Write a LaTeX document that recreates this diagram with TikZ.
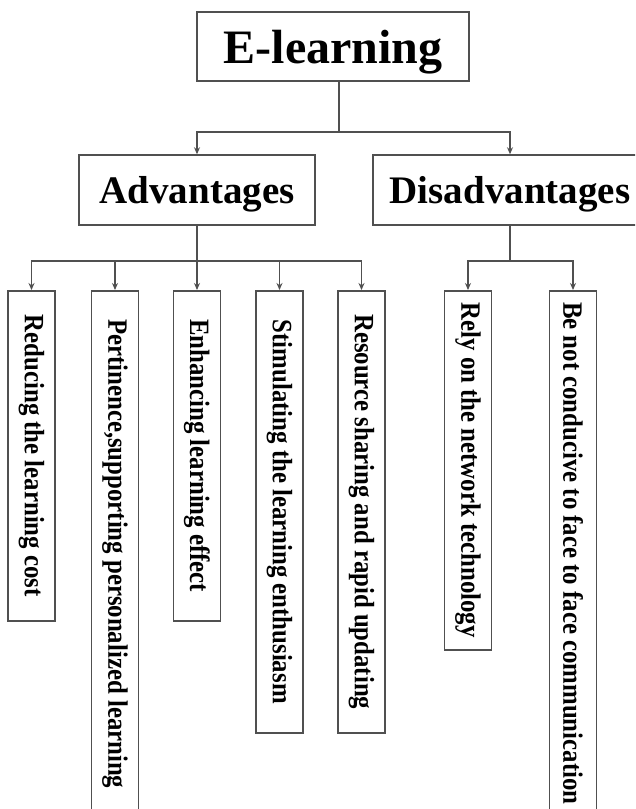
\documentclass[tikz,border=0pt]{standalone}
\usepackage{fontspec}
\setmainfont{Liberation Serif}
\usetikzlibrary{arrows.meta}
\definecolor{lc}{RGB}{80,80,80}
\newcommand\leaftext[1]{\rotatebox{-90}{\scalebox{0.886}[1]{#1}}}
\begin{document}
\begin{tikzpicture}[x=1pt,y=1pt,
 box/.style={draw=lc,line width=1.5pt,inner sep=0pt,font=\bfseries},
 topbox/.style={box,minimum width=272pt,minimum height=69pt,text depth=0pt,font=\bfseries\fontsize{48}{48}\selectfont},
 midbox/.style={box,minimum height=70pt,text depth=0pt,font=\bfseries\fontsize{39}{39}\selectfont},
 leafbox/.style={box,minimum width=47pt,anchor=north,font=\bfseries\fontsize{28}{28}\selectfont},
 link/.style={draw=lc,line width=1.5pt},
 arr/.style={link,-{Stealth[length=7pt,width=6pt]}}]
\useasboundingbox (0,0) rectangle (635,-809);
\clip (0,0) rectangle (635,-809);
\node[topbox] (el) at (333,-46.5) {E-learning};
\node[midbox,minimum width=236pt] (adv) at (197,-190) {Advantages};
\node[midbox,minimum width=274pt] (dis) at (510,-190) {Disadvantages};
\node[leafbox,minimum height=330pt] (c1) at (31.5,-290) {\leaftext{Reducing the learning cost}};
\node[leafbox,minimum height=526pt] (c2) at (115,-290) {\leaftext{Pertinence,supporting personalized learning}};
\node[leafbox,minimum height=330pt] (c3) at (197,-290) {\leaftext{Enhancing learning effect}};
\node[leafbox,minimum height=442pt] (c4) at (279.5,-290) {\leaftext{Stimulating the learning enthusiasm}};
\node[leafbox,minimum height=442pt] (c5) at (361.5,-290) {\leaftext{Resource sharing and rapid updating}};
\node[leafbox,minimum height=359pt] (c6) at (468,-290) {\leaftext{Rely on the network technology}};
\node[leafbox,minimum height=525pt] (c7) at (573,-290) {\leaftext{Be not conducive to face to face communication}};
\draw[link] ([xshift=6pt]el.south) -- ++(0,-50) coordinate (j1);
\draw[arr] (j1) -| (adv.north);
\draw[arr] (j1) -| (dis.north);
\draw[link] (adv.south) -- ++(0,-35) coordinate (j2);
\foreach \c in {c1,c2,c3,c4,c5} \draw[arr] (j2) -| (\c.north);
\draw[link] (dis.south) -- ++(0,-35) coordinate (j3);
\foreach \c in {c6,c7} \draw[arr] (j3) -| (\c.north);
\end{tikzpicture}
\end{document}
